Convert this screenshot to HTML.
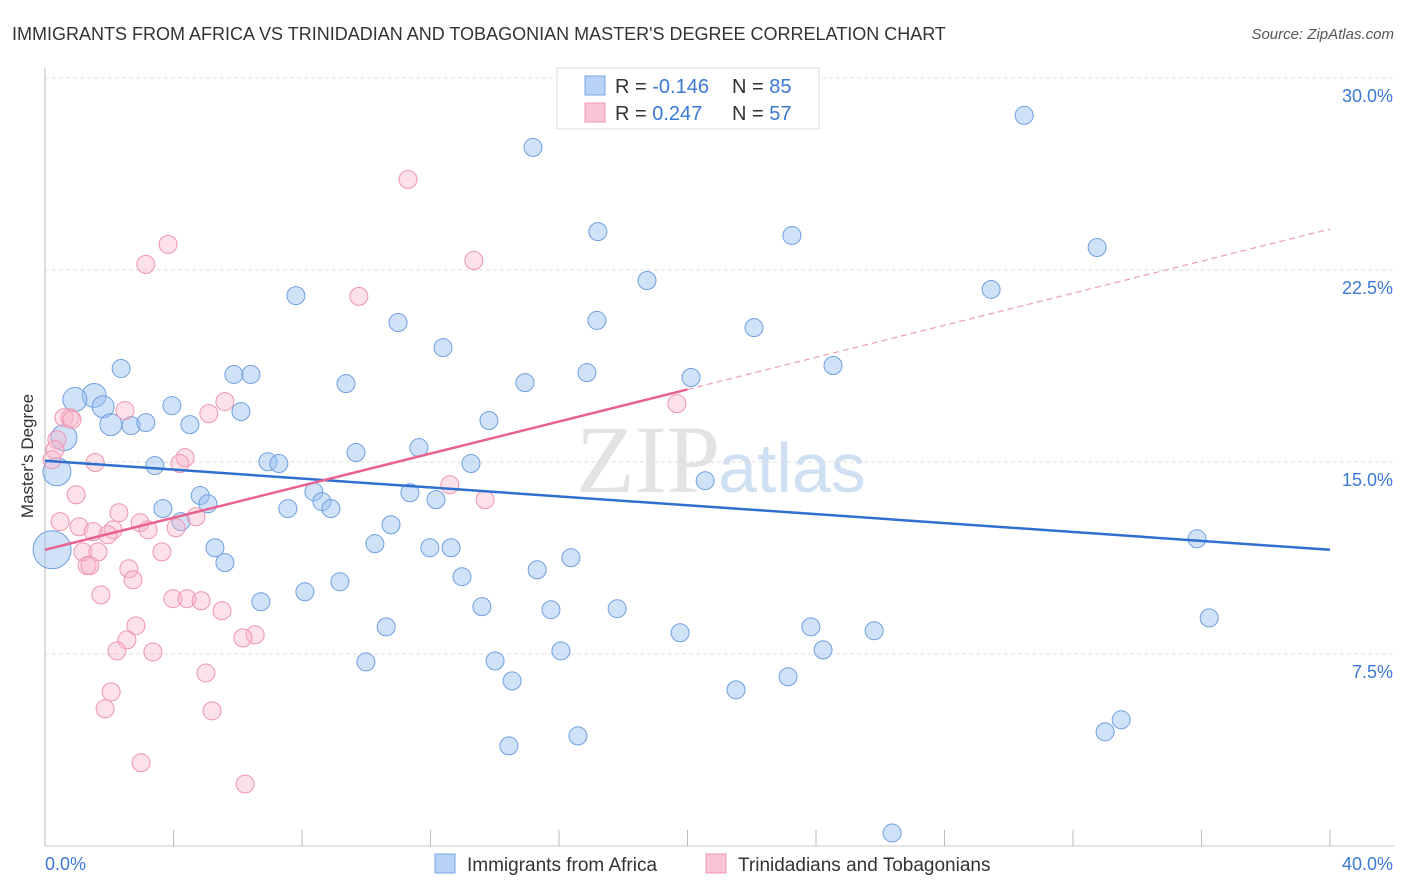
<!DOCTYPE html>
<html><head><meta charset="utf-8"><style>
body{margin:0;background:#fff;font-family:"Liberation Sans",sans-serif;}
svg{display:block}
</style></head><body>
<svg id="c" width="1406" height="892" xmlns="http://www.w3.org/2000/svg">
<text x="12" y="40" font-size="18" fill="#333">IMMIGRANTS FROM AFRICA VS TRINIDADIAN AND TOBAGONIAN MASTER'S DEGREE CORRELATION CHART</text>
<text x="1394" y="39" font-size="15" fill="#555" font-style="italic" text-anchor="end">Source: ZipAtlas.com</text>
<text x="33" y="456" font-size="17" fill="#333" text-anchor="middle" transform="rotate(-90 33 456)">Master's Degree</text>
<text x="720" y="492" font-size="96" fill="#e3e3e6" text-anchor="end" font-family="Liberation Serif">ZIP</text>
<text x="718" y="492" font-size="70" fill="#cfe0f3">atlas</text>
<g id="grid"></g><g id="pts"></g><g id="trend"></g>
<g>
<rect x="557" y="68" width="262" height="61" fill="#fff" stroke="#ddd"/>
<rect x="585" y="76" width="20" height="19" fill="#b8d3f5" stroke="#7aa7e0"/>
<rect x="585" y="103" width="20" height="19" fill="#f9c4d3" stroke="#ee99b3"/>
<text x="615" y="93" font-size="20" fill="#333">R = <tspan fill="#3a78d4">-0.146</tspan></text>
<text x="732" y="93" font-size="20" fill="#333">N = <tspan fill="#3a78d4">85</tspan></text>
<text x="615" y="120" font-size="20" fill="#333">R = <tspan fill="#3a78d4"> 0.247</tspan></text>
<text x="732" y="120" font-size="20" fill="#333">N = <tspan fill="#3a78d4">57</tspan></text>
</g>
<g>
<rect x="435" y="854" width="20" height="19" fill="#b8d3f5" stroke="#7aa7e0"/>
<text x="467" y="871" font-size="19" fill="#333">Immigrants from Africa</text>
<rect x="706" y="854" width="20" height="19" fill="#f9c4d3" stroke="#ee99b3"/>
<text x="738" y="871" font-size="19" fill="#333">Trinidadians and Tobagonians</text>
</g>
</svg>
<script>
const yTicks=[7.5,15,22.5,30];
const yTickLabels=["7.5%","15.0%","22.5%","30.0%"];
const xTickCount=10;
const xEndLabels=["0.0%","40.0%"];
const blueX=[15.19,30.48,17.21,23.25,32.75,18.74,29.45,7.81,10.99,17.18,22.07,12.39,24.53,2.37,5.88,6.41,16.87,9.37,14.94,20.11,1.53,0.93,1.81,3.95,6.1,2.05,2.68,3.14,4.51,13.82,0.59,11.64,9.68,3.42,6.94,7.28,13.26,0.37,20.55,8.37,11.36,4.83,8.62,12.17,5.07,3.67,7.56,8.9,4.23,10.77,35.86,0.22,10.27,5.29,11.98,12.64,16.37,5.6,15.32,12.98,9.18,8.09,6.72,13.6,15.75,17.81,36.24,10.62,23.84,19.77,25.81,24.22,16.06,9.99,14.01,14.54,23.13,21.51,33.5,33.0,16.59,14.44,26.37];
const blueY=[27.29,28.54,24.0,23.85,23.38,22.09,21.74,21.5,20.45,20.53,20.25,19.47,18.77,18.65,18.42,18.42,18.49,18.06,18.1,18.3,17.6,17.44,17.16,17.2,16.97,16.46,16.42,16.54,16.46,16.62,15.95,15.56,15.37,14.86,15.01,14.94,14.94,14.62,14.27,13.84,13.8,13.69,13.45,13.53,13.37,13.18,13.18,13.18,12.67,12.55,12.0,11.57,11.81,11.65,11.65,11.65,11.26,11.07,10.79,10.52,10.32,9.93,9.54,9.35,9.23,9.27,8.91,8.56,8.56,8.33,8.41,7.66,7.62,7.19,7.23,6.45,6.61,6.1,4.93,4.46,4.3,3.91,0.51];
const blueR=[9,9,9,9,9,9,9,9,9,9,9,9,9,9,9,9,9,9,9,9,12,12,11,9,9,11,9,9,9,9,13,9,9,9,9,9,9,14,9,9,9,9,9,9,9,9,9,9,9,9,9,19,9,9,9,9,9,9,9,9,9,9,9,9,9,9,9,9,9,9,9,9,9,9,9,9,9,9,9,9,9,9,9];
const pinkX=[11.3,3.83,3.14,13.35,9.77,5.6,19.67,2.49,5.1,0.59,0.78,0.84,0.37,0.31,0.22,1.56,4.36,4.2,12.6,0.97,13.7,0.47,1.06,2.3,2.96,3.21,2.12,1.5,1.96,4.08,4.7,3.64,1.18,1.65,1.31,1.4,2.61,2.74,1.74,3.98,4.42,4.86,5.51,2.83,2.55,6.54,6.16,2.24,3.36,5.01,2.06,1.87,5.2,2.99,6.23];
const pinkY=[26.04,23.5,22.72,22.87,21.47,17.36,17.28,17.01,16.89,16.73,16.73,16.66,15.87,15.48,15.09,14.98,15.17,14.94,14.11,13.72,13.53,12.67,12.47,13.02,12.63,12.35,12.35,12.28,12.16,12.43,12.86,11.49,11.49,11.49,10.95,10.95,10.83,10.4,9.81,9.66,9.66,9.58,9.19,8.6,8.05,8.25,8.13,7.62,7.58,6.76,6.02,5.36,5.28,3.25,2.42];
const blueTrend=[15.05,11.57];
const pinkTrend=[11.57,24.1];
const pinkSolidEnd=20;
const NS="http://www.w3.org/2000/svg";
const X0=45,X1=1330,Y0=846,PPY=25.6;
function sx(v){return X0+v/40*(X1-X0);}
function sy(v){return Y0-v*PPY;}
function mk(t,a,p){const e=document.createElementNS(NS,t);for(const k in a)e.setAttribute(k,a[k]);p.appendChild(e);return e;}
const grid=document.getElementById('grid');
mk('line',{x1:X0,y1:68,x2:X0,y2:Y0,stroke:'#bbb'},grid);
mk('line',{x1:X0,y1:Y0,x2:1394,y2:Y0,stroke:'#ccc'},grid);
yTicks.forEach((v,i)=>{
 const l=mk('line',{x1:X0,y1:sy(v),x2:1394,y2:sy(v),stroke:'#ddd','stroke-dasharray':'4 3'},grid);
 
 
 const t=mk('text',{x:1393,y:sy(v)+24,'font-size':18,fill:'#3a78d4','text-anchor':'end'},grid);
 t.textContent=yTickLabels[i];
 
 
});
for(let i=1;i<=xTickCount;i++){
 const l=mk('line',{x1:sx(i*4),y1:830,x2:sx(i*4),y2:Y0,stroke:'#bbb'},grid);
 
 
}
const xl=mk('text',{x:45,y:870,'font-size':18,fill:'#3a78d4'},grid);xl.textContent=xEndLabels[0];


const xr=mk('text',{x:1393,y:870,'font-size':18,fill:'#3a78d4','text-anchor':'end'},grid);xr.textContent=xEndLabels[1];


const pts=document.getElementById('pts');
blueX.forEach((v,i)=>{
 const c=mk('circle',{cx:sx(v),cy:sy(blueY[i]),r:blueR[i]||9,fill:'rgba(150,190,240,0.45)',stroke:'#6f9fdf','stroke-width':1},pts);
 
 
});
pinkX.forEach((v,i)=>{
 const c=mk('circle',{cx:sx(v),cy:sy(pinkY[i]),r:9,fill:'rgba(248,180,200,0.4)',stroke:'#ee94b0','stroke-width':1},pts);
 
 
});
const tr=document.getElementById('trend');
const bl=mk('line',{x1:sx(0),y1:sy(blueTrend[0]),x2:sx(40),y2:sy(blueTrend[1]),stroke:'#2f6fd0','stroke-width':2.5},tr);


const pm=pinkTrend[0]+(pinkTrend[1]-pinkTrend[0])*pinkSolidEnd/40;
const pl=mk('line',{x1:sx(0),y1:sy(pinkTrend[0]),x2:sx(pinkSolidEnd),y2:sy(pm),stroke:'#e8628f','stroke-width':2.5},tr);


const pd=mk('line',{x1:sx(pinkSolidEnd),y1:sy(pm),x2:sx(40),y2:sy(pinkTrend[1]),stroke:'#eaa0b8','stroke-width':1.2,'stroke-dasharray':'6 4'},tr);


</script>
</body></html>
